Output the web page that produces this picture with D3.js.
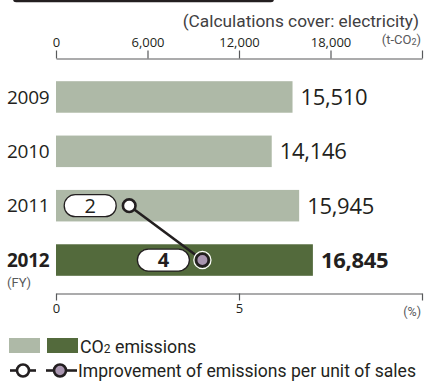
<!DOCTYPE html>
<html>
<head>
<meta charset="utf-8">
<script src="https://cdn.jsdelivr.net/npm/d3@7"></script>
<style>
  html, body { margin: 0; padding: 0; background: #fff; }
  svg { display: block; font-family: "Open Sans", "Noto Sans", sans-serif; }
</style>
</head>
<body>
<svg id="chart" width="424" height="386"></svg>
<script>
// Fiscal years and CO2 emissions (t-CO2)
const years = ["2009", "2010", "2011", "2012"];
const emissions = [15510, 14146, 15945, 16845];
// Improvement of emissions per unit of sales (%), available from FY2011
const improveYears = ["2011", "2012"];
const improvement = [2, 4];
// Axis ticks
const co2Ticks = [0, 6000, 12000, 18000, 24000];
const co2TickLabels = ["0", "6,000", "12,000", "18,000", ""];
const pctTicks = [0, 5, 10];
const pctTickLabels = ["0", "5", ""];

const lightGreen = "#aeb9a7";
const darkGreen = "#536a3c";
const ink = "#231f20";
const axisGray = "#58595b";
const purple = "#a996b0";

const svg = d3.select("#chart");
const x0 = 56, x1 = 422;

const x = d3.scaleLinear().domain([0, 24000]).range([x0, x1]);
const xp = d3.scaleLinear().domain([0, 10]).range([x0, x1]);
const y = d3.scaleBand().domain(years).range([72.5, 284.5]).paddingInner(0.42).paddingOuter(0.16);

// dark rule at top (bottom edge of the title box)
svg.append("rect").attr("x", 13).attr("y", -10).attr("width", 261).attr("height", 12.3)
  .attr("rx", 3).attr("fill", ink);

// note
svg.append("text").attr("x", 419).attr("y", 27).attr("text-anchor", "end")
  .attr("font-size", 17.3).attr("fill", "#414042").style("font-family", "Roboto, 'Liberation Sans', sans-serif")
  .text("(Calculations cover: electricity)");

// top axis
const topAxis = d3.axisTop(x).tickValues(co2Ticks).tickFormat((d, i) => co2TickLabels[i])
  .tickSizeInner(8).tickSizeOuter(0).tickPadding(3.5);
const gTop = svg.append("g").attr("transform", "translate(0,58.5)").call(topAxis);
gTop.select(".domain").attr("stroke", axisGray).attr("stroke-width", 1.2);
gTop.selectAll(".tick line").attr("stroke", axisGray).attr("stroke-width", 1.2);
gTop.selectAll(".tick text").attr("font-size", 13).attr("fill", ink)
  .style("font-family", "'Open Sans', sans-serif");

// unit label of the top axis
const unit = svg.append("text").attr("x", 421).attr("y", 44).attr("text-anchor", "end")
  .attr("font-size", 13).attr("fill", "#58595b").style("font-family", "Roboto, sans-serif");
unit.append("tspan").text("(t-CO");
unit.append("tspan").attr("font-size", 9).attr("dy", 1).text("2");
unit.append("tspan").attr("dy", -1).text(")");

// bars
svg.append("g").selectAll("rect").data(years).join("rect")
  .attr("x", x(0))
  .attr("y", d => y(d))
  .attr("width", (d, i) => x(emissions[i]) - x(0))
  .attr("height", y.bandwidth())
  .attr("fill", (d, i) => i === years.length - 1 ? darkGreen : lightGreen);

// year labels
svg.append("g").selectAll("text").data(years).join("text")
  .attr("x", 7)
  .attr("y", d => y(d) + y.bandwidth() / 2 + 6.8)
  .attr("font-size", 19)
  .attr("font-weight", (d, i) => i === years.length - 1 ? 700 : 400)
  .attr("fill", ink)
  .style("letter-spacing", "-0.3px")
  .text(d => d);

// value labels
svg.append("g").selectAll("text").data(years).join("text")
  .attr("x", (d, i) => x(emissions[i]) + 8)
  .attr("y", d => y(d) + y.bandwidth() / 2 + 8)
  .attr("font-size", 22)
  .attr("font-weight", (d, i) => i === years.length - 1 ? 700 : 400)
  .attr("fill", ink)
  .style("letter-spacing", "-0.3px")
  .text((d, i) => d3.format(",")(emissions[i]));

// "(FY)"
svg.append("text").attr("x", 7).attr("y", 287).attr("font-size", 13).attr("fill", "#58595b")
  .style("font-family", "Roboto, sans-serif").text("(FY)");

// bottom axis (%)
const botAxis = d3.axisBottom(xp).tickValues(pctTicks).tickFormat((d, i) => pctTickLabels[i])
  .tickSizeInner(7).tickSizeOuter(0).tickPadding(3);
const gBot = svg.append("g").attr("transform", "translate(0,293.5)").call(botAxis);
gBot.select(".domain").attr("stroke", axisGray).attr("stroke-width", 1.2);
gBot.selectAll(".tick line").attr("stroke", axisGray).attr("stroke-width", 1.2);
gBot.selectAll(".tick text").attr("font-size", 13).attr("fill", ink)
  .style("font-family", "'Open Sans', sans-serif");
svg.append("text").attr("x", 421).attr("y", 316).attr("text-anchor", "end")
  .attr("font-size", 12.5).attr("fill", "#58595b").style("font-family", "Roboto, sans-serif").text("(%)");

// improvement line
const pts = improveYears.map((yr, i) => ({ yr, v: improvement[i], cx: xp(improvement[i]), cy: y(yr) + y.bandwidth() / 2 }));
svg.append("path")
  .attr("d", d3.line().x(d => d.cx).y(d => d.cy)(pts))
  .attr("stroke", ink).attr("stroke-width", 2.6).attr("fill", "none");

// value pills
const pillW = 52, pillH = 22;
const pills = svg.append("g").selectAll("g").data(pts).join("g");
pills.append("rect")
  .attr("x", d => d.cx - 13 - pillW)
  .attr("y", d => d.cy - pillH / 2)
  .attr("width", pillW).attr("height", pillH)
  .attr("rx", pillH / 2).attr("ry", pillH / 2)
  .attr("fill", "#fff").attr("stroke", ink).attr("stroke-width", 1.3);
pills.append("text")
  .attr("x", d => d.cx - 13 - pillW / 2)
  .attr("y", d => d.cy + 7)
  .attr("text-anchor", "middle")
  .attr("font-size", 20)
  .attr("font-weight", (d, i) => i === pts.length - 1 ? 700 : 400)
  .attr("fill", ink)
  .text(d => d.v);

// points
svg.append("g").selectAll("circle").data(pts).join("circle")
  .attr("cx", d => d.cx).attr("cy", d => d.cy).attr("r", 6.3)
  .attr("fill", (d, i) => i === pts.length - 1 ? purple : "#fff")
  .attr("stroke", ink).attr("stroke-width", 2.6);
// white halo on the last point
const last = pts[pts.length - 1];
svg.append("circle").attr("cx", last.cx).attr("cy", last.cy).attr("r", 8.6)
  .attr("fill", "none").attr("stroke", "#fff").attr("stroke-width", 1.2);

// legend
const lg = svg.append("g");
lg.append("rect").attr("x", 9).attr("y", 338).attr("width", 31).attr("height", 15).attr("fill", lightGreen);
lg.append("rect").attr("x", 47).attr("y", 338).attr("width", 31).attr("height", 15).attr("fill", darkGreen);
const lt = lg.append("text").attr("x", 80).attr("y", 352.5).attr("font-size", 17.8).attr("fill", ink)
  .style("font-family", "Roboto, sans-serif");
lt.append("tspan").text("CO");
lt.append("tspan").attr("font-size", 12).text("2");
lt.append("tspan").text(" emissions");

const legendMarks = [{ a: 10, b: 36, c: 23, fill: "#fff" }, { a: 46, b: 77, c: 60, fill: purple }];
legendMarks.forEach(m => {
  lg.append("line").attr("x1", m.a).attr("x2", m.b).attr("y1", 370.5).attr("y2", 370.5)
    .attr("stroke", ink).attr("stroke-width", 2.6);
  lg.append("circle").attr("cx", m.c).attr("cy", 370.5).attr("r", 6)
    .attr("fill", m.fill).attr("stroke", ink).attr("stroke-width", 2.6);
});
lg.append("text").attr("x", 78).attr("y", 377).attr("font-size", 17.8).attr("fill", ink)
  .attr("textLength", 338).attr("lengthAdjust", "spacingAndGlyphs")
  .style("font-family", "Roboto, sans-serif")
  .text("Improvement of emissions per unit of sales");
</script>
</body>
</html>
